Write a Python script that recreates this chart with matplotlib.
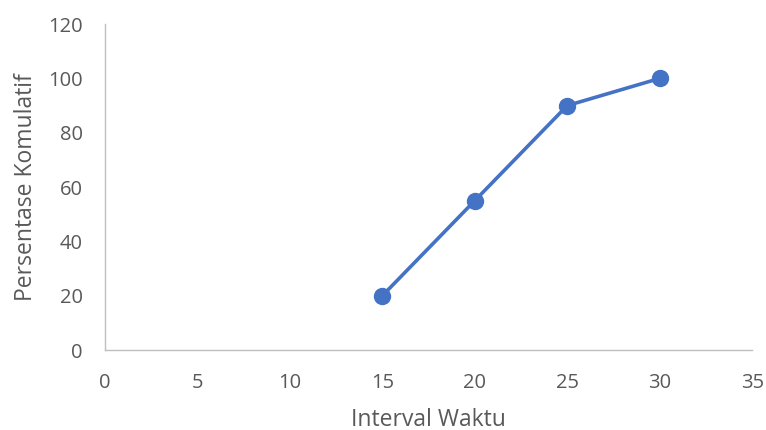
import matplotlib.pyplot as plt

# data
interval_waktu = [15, 20, 25, 30]
persentase_komulatif = [20, 55, 90, 100]
x_ticks = [0, 5, 10, 15, 20, 25, 30, 35]
y_ticks = [0, 20, 40, 60, 80, 100, 120]

plt.rcParams['font.family'] = ['Open Sans', 'DejaVu Sans']
text_color = '#595959'

fig = plt.figure(figsize=(7.66, 4.30), dpi=100)
ax = fig.add_axes([0.137, 0.186, 0.845, 0.758])

ax.plot(interval_waktu, persentase_komulatif, color='#4472C4', lw=2.6,
        marker='o', markersize=11.5, zorder=3, clip_on=False)

ax.set_xlim(0, 35)
ax.set_ylim(0, 120)
ax.set_xticks(x_ticks)
ax.set_yticks(y_ticks)

for side in ['top', 'right']:
    ax.spines[side].set_visible(False)
for side in ['left', 'bottom']:
    ax.spines[side].set_color('#BFBFBF')
    ax.spines[side].set_linewidth(1.0)

ax.tick_params(length=0, labelsize=14.5, colors=text_color)
ax.tick_params(axis='x', pad=16.5)
ax.tick_params(axis='y', pad=16)
ax.set_xlabel('Interval Waktu', fontsize=16.5, color=text_color, labelpad=10.5)
ax.set_ylabel('Persentase Komulatif', fontsize=16.5, color=text_color, labelpad=7)

fig.savefig('out.png', dpi=100)
